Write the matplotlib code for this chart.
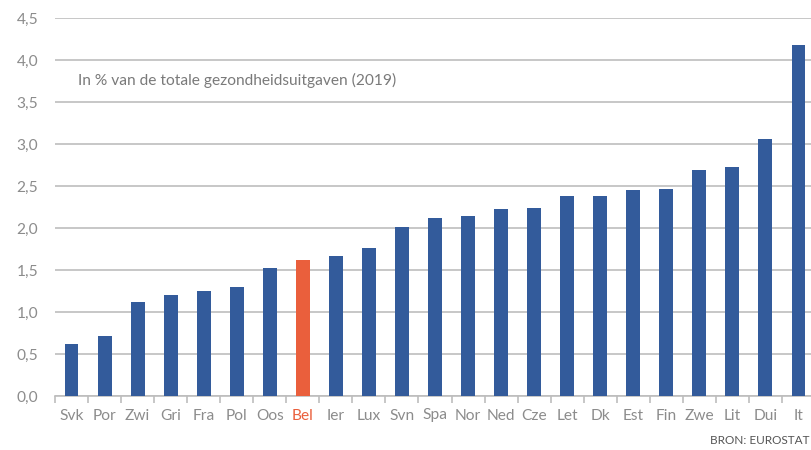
import matplotlib.pyplot as plt
import numpy as np

landen = ["Svk", "Por", "Zwi", "Gri", "Fra", "Pol", "Oos", "Bel", "Ier", "Lux", "Svn", "Spa",
          "Nor", "Ned", "Cze", "Let", "Dk", "Est", "Fin", "Zwe", "Lit", "Dui", "It"]
waarden = [0.62, 0.71, 1.12, 1.20, 1.25, 1.30, 1.52, 1.62, 1.67, 1.76, 2.01, 2.12,
           2.14, 2.23, 2.24, 2.38, 2.38, 2.45, 2.46, 2.69, 2.73, 3.06, 4.18]
y_ticks = [0.0, 0.5, 1.0, 1.5, 2.0, 2.5, 3.0, 3.5, 4.0, 4.5]

blauw = "#335b9b"
rood = "#ea5f3c"
grijs = "#8c8c8c"

plt.rcParams['font.family'] = ['Lato', 'DejaVu Sans']

fig = plt.figure(figsize=(8.11, 4.5), dpi=100)
ax = fig.add_axes([55 / 811, 54 / 450, 760 / 811, 378 / 450])

x = np.arange(len(landen))
kleuren = [rood if l == "Bel" else blauw for l in landen]
ax.bar(x, waarden, width=0.42, color=kleuren, zorder=3)

ax.set_xlim(-0.5, len(landen) - 0.5)
ax.set_ylim(0, 4.5)
ax.set_yticks(y_ticks)
ax.set_yticklabels([f"{v:.1f}".replace(".", ",") for v in y_ticks], color=grijs, fontsize=11.2)
ax.yaxis.grid(True, color="#bdbdbd", linewidth=1.2, zorder=0)
ax.tick_params(axis="y", length=0, pad=12)

ax.set_xticks(x)
ax.set_xticklabels(landen, fontsize=11.2)
for lbl, l in zip(ax.get_xticklabels(), landen):
    lbl.set_color(rood if l == "Bel" else grijs)
ax.tick_params(axis="x", which="major", length=0, pad=9)
ax.set_xticks(np.arange(-0.5, len(landen)), minor=True)
ax.tick_params(axis="x", which="minor", length=5, color="#bdbdbd", width=1.2)

for s in ["top", "right", "left"]:
    ax.spines[s].set_visible(False)
ax.spines["bottom"].set_color("#bdbdbd")
ax.spines["bottom"].set_linewidth(1.2)

ax.text(0.2, 3.76, "In % van de totale gezondheidsuitgaven (2019)", color="#7a7a7a",
        fontsize=11.2, va="center", ha="left")
fig.text(809 / 811, 1 - 441 / 450, "BRON: EUROSTAT", color="#555555", fontsize=8.5,
         va="center", ha="right")

fig.savefig("out.png", dpi=100)
